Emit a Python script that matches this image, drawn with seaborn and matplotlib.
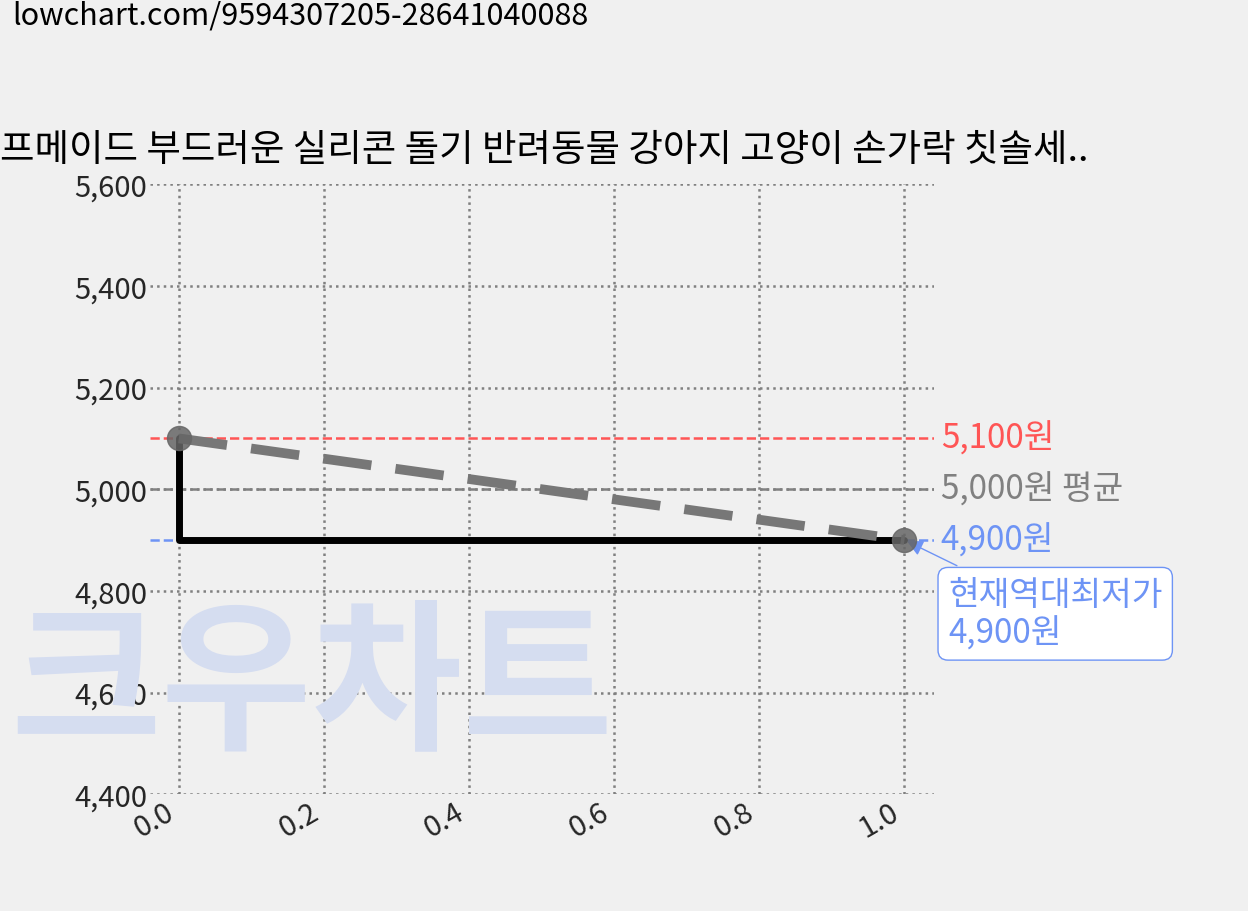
import matplotlib
matplotlib.use("Agg")
import matplotlib.pyplot as plt
import seaborn as sns

sns.set_theme(style="white")
plt.rcParams['font.family'] = ['Noto Sans CJK KR', 'DejaVu Sans']

x_vals = [0.0, 1.0]
prices = [5100, 4900]
step_x = [0.0, 0.0, 1.0]
step_y = [5100, 4900, 4900]
max_price, avg_price, min_price = 5100, 5000, 4900
yticks = [4400, 4600, 4800, 5000, 5200, 5400, 5600]
xticks = [0.0, 0.2, 0.4, 0.6, 0.8, 1.0]
title = "프메이드 부드러운 실리콘 돌기 반려동물 강아지 고양이 손가락 칫솔세.."
url = "lowchart.com/9594307205-28641040088"

bg = "#f0f0f0"
fig = plt.figure(figsize=(12.48, 9.12), dpi=100, facecolor=bg)
ax = fig.add_axes([0.120, 0.128, 0.628, 0.669])
ax.patch.set_alpha(0)

fig.text(0.25, 0.245, "크우차트", fontsize=118, color="#d5ddf0", weight="bold",
         ha="center", va="center", zorder=0)

ax.axhline(max_price, color="#ff5555", ls="--", lw=1.8)
ax.axhline(avg_price, color="#808080", ls="--", lw=1.8)
ax.axhline(min_price, color="#6e94f5", ls="--", lw=1.8)

ax.plot(step_x, step_y, color="black", lw=5, zorder=3)
sns.lineplot(x=x_vals, y=prices, ax=ax, color="#777777", lw=7, ls=(0, (5, 2.5)), zorder=4)
ax.scatter(x_vals, prices, s=300, color="#666666", alpha=0.85, zorder=5)

ax.set_xlim(-0.04, 1.04)
ax.set_ylim(4400, 5600)
ax.set_yticks(yticks)
ax.set_yticklabels([f"{v:,}" for v in yticks], fontsize=21)
ax.set_xticks(xticks)
ax.set_xticklabels([f"{v:.1f}" for v in xticks], fontsize=21, rotation=30, ha="right")
ax.grid(True, color="#808080", ls=":", lw=1.8)
for s in ax.spines.values():
    s.set_visible(False)
ax.tick_params(length=0, pad=2)

ax.text(1.05, max_price, f"{max_price:,}원", color="#ff5555", fontsize=24, va="center")
ax.text(1.05, avg_price, f"{avg_price:,}원 평균", color="#808080", fontsize=24, va="center")
ax.text(1.05, min_price, f"{min_price:,}원", color="#6e94f5", fontsize=24, va="center")
ax.annotate(f"현재역대최저가\n{min_price:,}원", xy=(1.0, min_price), xytext=(1.06, 4755),
            fontsize=24, color="#6e94f5", va="center", annotation_clip=False,
            linespacing=1.1,
            bbox=dict(boxstyle="round,pad=0.3", fc="white", ec="#6e94f5"),
            arrowprops=dict(arrowstyle="-|>", color="#6e94f5"))

fig.text(0.0, 0.835, title, fontsize=27, color="black", ha="left", va="center")
fig.text(0.01, 0.982, url, fontsize=22, color="black", ha="left", va="center")

fig.savefig("out.png", dpi=100, facecolor=bg)
